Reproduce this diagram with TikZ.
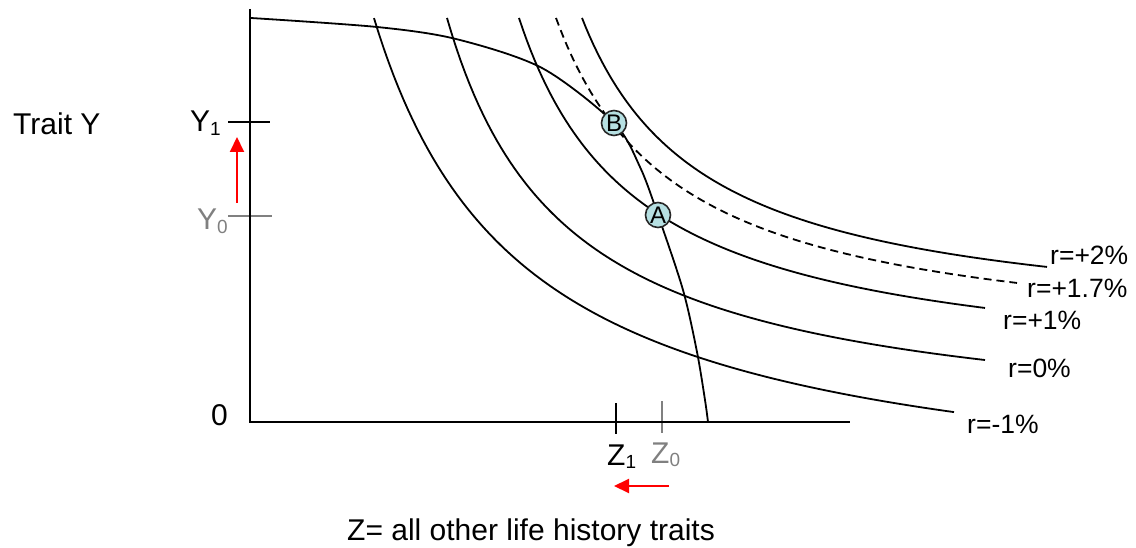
\documentclass[tikz,border=0pt]{standalone}
\usepackage{fontspec}
\setmainfont{Liberation Sans}
\usetikzlibrary{arrows.meta}
\definecolor{dotfill}{RGB}{182,224,226}
\definecolor{tickgray}{RGB}{128,128,128}
\definecolor{arrowred}{RGB}{255,0,0}
\begin{document}
\begin{tikzpicture}[x=1pt,y=-1pt,
  curve/.style={line width=1.8pt},
  axisline/.style={line width=1.8pt},
  tickline/.style={line width=1.8pt},
  shiftarrow/.style={line width=2pt, arrowred, -{Triangle[length=15pt,width=14pt]}},
  pointdot/.style={circle, draw=black!85, line width=1.6pt, fill=dotfill, minimum size=25pt, inner sep=0pt, font=\fontsize{24}{24}\selectfont},
  bigtext/.style={inner sep=0pt, font=\fontsize{30}{36}\selectfont},
  rlabel/.style={inner sep=0pt, anchor=base west, font=\fontsize{26.5}{30}\selectfont}]
\useasboundingbox (0,0) rectangle (1136,548);

% ticks
\coordinate (y1l) at (228,122); \coordinate (y1r) at (270,122);
\coordinate (y0l) at (228,216); \coordinate (y0r) at (272,216);
\coordinate (z1t) at (616,403); \coordinate (z1b) at (616,434);
\coordinate (z0t) at (662,401); \coordinate (z0b) at (662,433);
\draw[tickline] (y1l) -- (y1r);
\draw[tickline, tickgray] (y0l) -- (y0r);
\draw[tickline] (z1t) -- (z1b);
\draw[tickline, tickgray] (z0t) -- (z0b);

% axes
\coordinate (ytop) at (250,9);
\coordinate (O) at (250,422);
\coordinate (xend) at (850,422);
\draw[axisline] (ytop) -- (O) -- (xend);

% isoclines (hyperbolae)
\draw[curve] plot[domain=374:954, samples=120] (\x, {514 - 743.78/((\x-224)/100)});
\draw[curve] plot[domain=447:985, samples=120] (\x, {436.5 - 503.49/((\x-326.7)/100)});
\draw[curve] plot[domain=519:985, samples=120] (\x, {382.2 - 434.52/((\x-399.7)/100)});
\draw[curve, dash pattern=on 8pt off 5pt] plot[domain=556:1017, samples=120] (\x, {353.3 - 410.46/((\x-433.6)/100)});
\draw[curve] plot[domain=582:1047, samples=120] (\x, {333 - 388.77/((\x-458.6)/100)});

% trade-off curve
\draw[curve] plot[smooth, tension=0.5] coordinates {(251,18) (377,27) (456,39) (542,68) (614,123) (640,167) (658,215) (683,290) (697,352) (705,400) (708,422)};

% points
\node[pointdot] (B) at (614,123) {B};
\node[pointdot] (A) at (658,215) {A};

% labels
\node[bigtext, anchor=base west] (traitY) at (13,135) {Trait Y};
\node[bigtext, anchor=base east] (Y1) at (221,132) {Y\raisebox{-0.22ex}{\fontsize{19}{19}\selectfont 1}};
\node[bigtext, anchor=base east, text=tickgray] (Y0) at (228,230) {Y\raisebox{-0.22ex}{\fontsize{19}{19}\selectfont 0}};
\node[bigtext, anchor=base east] (zero) at (228,425) {0};
\node[bigtext, anchor=base west] (Z1) at (607,465) {Z\raisebox{-0.22ex}{\fontsize{19}{19}\selectfont 1}};
\node[bigtext, anchor=base west, text=tickgray] (Z0) at (651,463) {Z\raisebox{-0.22ex}{\fontsize{19}{19}\selectfont 0}};
\node[bigtext, anchor=base west] (Zname) at (347,540) {Z= all other life history traits};

\node[rlabel] (r2) at (1050,265) {r=+2\%};
\node[rlabel] (r17) at (1027,298) {r=+1.7\%};
\node[rlabel] (r1) at (1003,330) {r=+1\%};
\node[rlabel] (r0) at (1008,377) {r=0\%};
\node[rlabel] (rm1) at (967,433) {r=-1\%};

% shift arrows
\coordinate (ya) at (237,203); \coordinate (yb) at (237,137);
\coordinate (za) at (669,486); \coordinate (zb) at (614,486);
\draw[shiftarrow] (ya) -- (yb);
\draw[shiftarrow] (za) -- (zb);
\end{tikzpicture}
\end{document}
